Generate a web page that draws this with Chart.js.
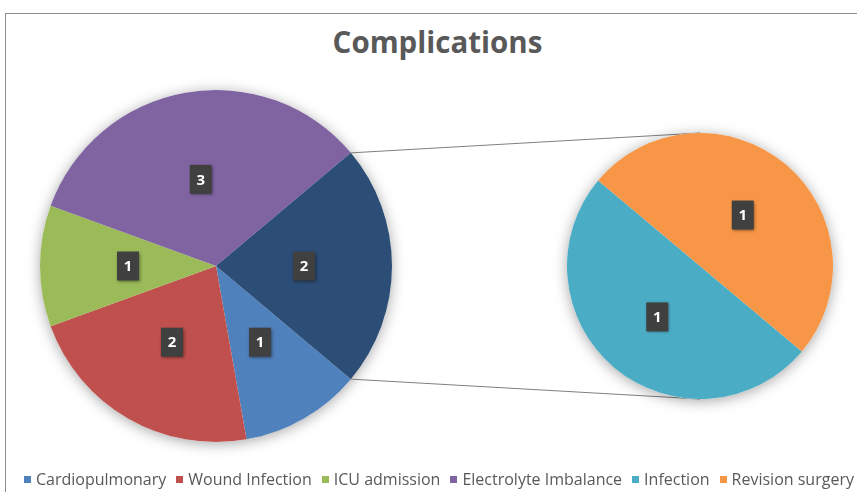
<!DOCTYPE html>
<html>
<head>
<meta charset="utf-8">
<script src="https://cdn.jsdelivr.net/npm/chart.js@4.4.0/dist/chart.umd.min.js"></script>
<style>
  html, body { margin: 0; padding: 0; background: #fff; }
  #wrap { position: relative; width: 857px; height: 492px; overflow: hidden; background: #fff; font-family: "Open Sans", sans-serif; }
  #frame { position: absolute; left: 5px; top: 13px; right: -3px; bottom: -3px; border-left: 1px solid #8c8c8c; border-top: 1px solid #8c8c8c; }
  #title { position: absolute; left: 9px; top: 22px; width: 857px; text-align: center; font-weight: bold; font-size: 29.5px; line-height: 40px; color: #595959; }
  #mainBox { position: absolute; left: 0; top: 0; width: 857px; height: 492px; }
  #subBox { position: absolute; left: 552px; top: 118px; width: 296px; height: 296px; }
  #legend { position: absolute; left: 24px; top: 468px; display: flex; white-space: nowrap; font-size: 16px; line-height: 22px; color: #595959; }
  #legend span.item { display: flex; align-items: center; margin-right: 10px; }
  #legend span.sw { display: inline-block; width: 7px; height: 7px; margin-right: 5px; }
</style>
</head>
<body>
<div id="wrap">
  <div id="frame"></div>
  <div id="title">Complications</div>
  <div id="mainBox"><canvas id="mainChart"></canvas></div>
  <div id="subBox"><canvas id="subChart"></canvas></div>
  <div id="legend"></div>
</div>
<script>
const categories = ["Cardiopulmonary", "Wound Infection", "ICU admission", "Electrolyte Imbalance", "Infection", "Revision surgery"];
const counts = [1, 2, 1, 3, 1, 1];
const sliceColors = ["#4F81BD", "#C0504D", "#9BBB59", "#8064A2", "#4BACC6", "#F79646"];
const mainCount = 4; // los primeros 4 van en el pie grande, el resto en el pequeño
const otherColor = "#2C4D75";

const mainLabels = categories.slice(0, mainCount).concat(["Other"]);
const mainValues = counts.slice(0, mainCount).concat([counts.slice(mainCount).reduce((a, b) => a + b, 0)]);
const mainColors = sliceColors.slice(0, mainCount).concat([otherColor]);
const subLabels = categories.slice(mainCount);
const subValues = counts.slice(mainCount);
const subColors = sliceColors.slice(mainCount);

// Leyenda
const legend = document.getElementById("legend");
categories.forEach((name, i) => {
  legend.insertAdjacentHTML("beforeend",
    `<span class="item"><span class="sw" style="background:${sliceColors[i]}"></span>${name}</span>`);
});

// Sombra suave debajo del pie
const pieShadow = {
  id: "pieShadow",
  beforeDatasetsDraw(chart) {
    const arc = chart.getDatasetMeta(0).data[0];
    if (!arc) return;
    const ctx = chart.ctx;
    ctx.save();
    ctx.shadowColor = "rgba(0,0,0,0.35)";
    ctx.shadowBlur = 14;
    ctx.shadowOffsetY = 2;
    ctx.beginPath();
    ctx.arc(arc.x, arc.y, arc.outerRadius, 0, Math.PI * 2);
    ctx.fillStyle = "#fff";
    ctx.fill();
    ctx.restore();
  }
};

// Etiquetas con el valor en cajita oscura
const valueBoxes = {
  id: "valueBoxes",
  afterDatasetsDraw(chart) {
    const ctx = chart.ctx;
    const data = chart.data.datasets[0].data;
    chart.getDatasetMeta(0).data.forEach((arc, i) => {
      const p = arc.tooltipPosition();
      const w = 22, h = 29;
      ctx.save();
      ctx.shadowColor = "rgba(0,0,0,0.45)";
      ctx.shadowBlur = 3;
      ctx.shadowOffsetX = 1;
      ctx.shadowOffsetY = 1;
      ctx.fillStyle = "#404040";
      ctx.fillRect(p.x - w / 2, p.y - h / 2, w, h);
      ctx.restore();
      ctx.save();
      ctx.fillStyle = "#fff";
      ctx.font = "bold 15px 'Open Sans'";
      ctx.textAlign = "center";
      ctx.textBaseline = "middle";
      ctx.fillText(String(data[i]), p.x, p.y + 1);
      ctx.restore();
    });
  }
};

const subChart = new Chart(document.getElementById("subChart"), {
  type: "pie",
  data: {
    labels: subLabels,
    datasets: [{ data: subValues, backgroundColor: subColors, borderWidth: 0 }]
  },
  options: {
    responsive: true,
    maintainAspectRatio: false,
    animation: false,
    events: [],
    rotation: 130,
    layout: { padding: 15 },
    plugins: { legend: { display: false }, tooltip: { enabled: false } }
  },
  plugins: [pieShadow, valueBoxes]
});

// Lineas que unen el trozo "Other" con el pie pequeño
const connectors = {
  id: "connectors",
  afterDraw(chart) {
    const meta = chart.getDatasetMeta(0);
    const other = meta.data[mainCount];
    const sub = subChart.getDatasetMeta(0).data[0];
    if (!other || !sub) return;
    const box = document.getElementById("subBox");
    const sx = box.offsetLeft + sub.x;
    const sy = box.offsetTop + sub.y;
    const sr = sub.outerRadius;
    const r = other.outerRadius;
    const ctx = chart.ctx;
    ctx.save();
    ctx.strokeStyle = "#7f7f7f";
    ctx.lineWidth = 1;
    ctx.beginPath();
    ctx.moveTo(other.x + r * Math.cos(other.startAngle), other.y + r * Math.sin(other.startAngle));
    ctx.lineTo(sx, sy - sr);
    ctx.moveTo(other.x + r * Math.cos(other.endAngle), other.y + r * Math.sin(other.endAngle));
    ctx.lineTo(sx, sy + sr);
    ctx.stroke();
    ctx.restore();
  }
};

const mainChart = new Chart(document.getElementById("mainChart"), {
  type: "pie",
  data: {
    labels: mainLabels,
    datasets: [{ data: mainValues, backgroundColor: mainColors, borderWidth: 0 }]
  },
  options: {
    responsive: true,
    maintainAspectRatio: false,
    animation: false,
    events: [],
    rotation: 130,
    layout: { padding: { left: 40, top: 90, right: 465, bottom: 50 } },
    plugins: { legend: { display: false }, tooltip: { enabled: false } }
  },
  plugins: [pieShadow, valueBoxes, connectors]
});
</script>
</body>
</html>
